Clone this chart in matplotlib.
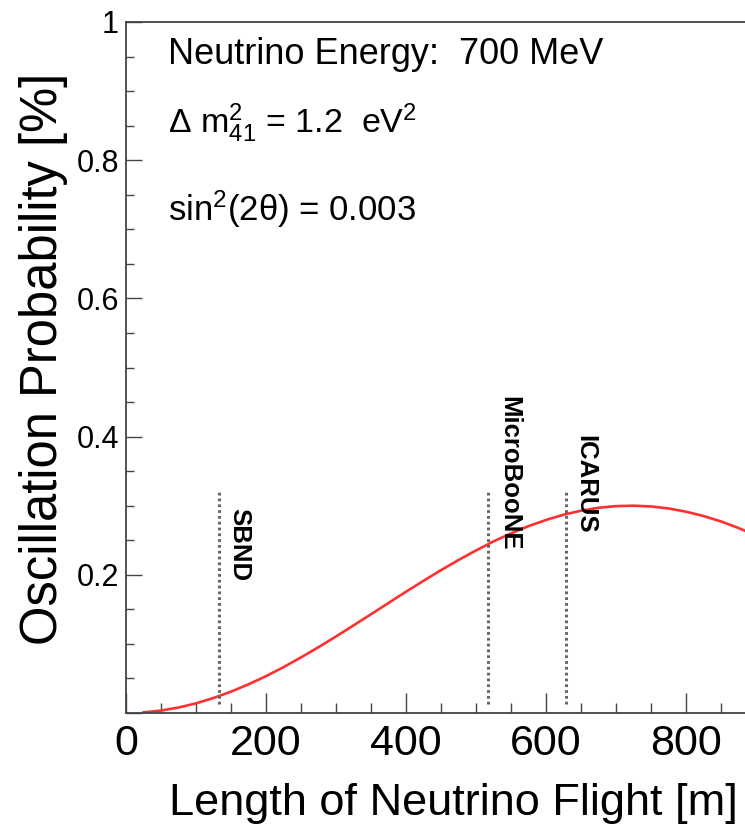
import matplotlib
matplotlib.use("Agg")
import matplotlib.pyplot as plt
from matplotlib.ticker import MultipleLocator, FuncFormatter

plt.rcParams['font.family'] = ['Liberation Sans', 'DejaVu Sans']
plt.rcParams['mathtext.fontset'] = 'custom'
plt.rcParams['mathtext.rm'] = 'Liberation Sans'
plt.rcParams['mathtext.it'] = 'Liberation Sans:italic'

# oscillation curve (L in m, P in %)
flight_m = [25, 50, 75, 100, 125, 150, 175, 200, 225, 250, 275, 300, 325, 350,
            375, 400, 425, 450, 475, 500, 525, 550, 575, 600, 625, 650, 675,
            700, 725, 750, 775, 800, 825, 850, 875, 900]
prob_pct = [0.0009, 0.0035, 0.0079, 0.0140, 0.0217, 0.0309, 0.0415, 0.0534,
            0.0664, 0.0805, 0.0953, 0.1108, 0.1268, 0.1430, 0.1593, 0.1756,
            0.1914, 0.2068, 0.2215, 0.2353, 0.2484, 0.2600, 0.2705, 0.2794,
            0.2870, 0.2928, 0.2970, 0.2994, 0.3000, 0.2989, 0.2960, 0.2913,
            0.2850, 0.2771, 0.2676, 0.2568]

# detectors
det_names = ["SBND", "MicroBooNE", "ICARUS"]
det_pos = [133, 517, 628]
det_label_x = [161, 547, 656]
det_label_top = [0.296, 0.459, 0.403]
line_lo, line_hi = 0.013, 0.322

fig = plt.figure(figsize=(7.45, 8.25), dpi=100)
ax = fig.add_axes([126/745, 1 - 713/825, 1 - 126/745, (713 - 22)/825])

ax.plot(flight_m, prob_pct, color='#ff3030', lw=1.9, solid_joinstyle='round')

for name, x, lx, ty in zip(det_names, det_pos, det_label_x, det_label_top):
    ax.plot([x, x], [line_lo, line_hi], color='#666666', lw=2.2,
            linestyle=(0, (0.9, 1.0)))
    ax.text(lx, ty, name, rotation=270, ha='center', va='top',
            fontsize=18.5, fontweight='bold')

ax.set_xlim(0, 884)
ax.set_ylim(0, 1)

ax.xaxis.set_major_locator(MultipleLocator(200))
ax.xaxis.set_minor_locator(MultipleLocator(50))
ax.yaxis.set_major_locator(MultipleLocator(0.2))
ax.yaxis.set_minor_locator(MultipleLocator(0.05))
ax.yaxis.set_major_formatter(FuncFormatter(
    lambda v, p: "" if abs(v) < 1e-9 else ("1" if abs(v - 1) < 1e-9 else f"{v:.1f}")))

ax.tick_params(axis='x', which='major', direction='in', length=14.4, width=1,
               color='#444444', labelsize=31, pad=8)
ax.tick_params(axis='x', which='minor', direction='in', length=7.2, width=1,
               color='#444444')
ax.tick_params(axis='y', which='major', direction='in', length=11.5, width=1,
               color='#444444', labelsize=22, pad=5)
ax.tick_params(axis='y', which='minor', direction='in', length=5.8, width=1,
               color='#444444')

for s in ['left', 'bottom', 'top']:
    ax.spines[s].set_color('#444444')
    ax.spines[s].set_linewidth(1.3)
ax.spines['right'].set_visible(False)

ax.text(0.068, 0.939, "Neutrino Energy:  700 MeV", transform=ax.transAxes,
        fontsize=26, va='baseline')
ax.text(0.068, 0.839, r"Δ m$^{2}_{41}$ = 1.2  eV$^{2}$", transform=ax.transAxes,
        fontsize=24.5, va='baseline')
ax.text(0.068, 0.713, r"sin$^{2}$(2θ) = 0.003", transform=ax.transAxes,
        fontsize=25, va='baseline')

fig.text(738/745, 1 - 815/825, "Length of Neutrino Flight [m]", ha='right',
         va='baseline', fontsize=32.5)
fig.text(44/745, 1 - 73/825, "Oscillation Probability [%]", rotation=90,
         ha='center', va='top', fontsize=36.5)

fig.savefig("out.png", dpi=100)
